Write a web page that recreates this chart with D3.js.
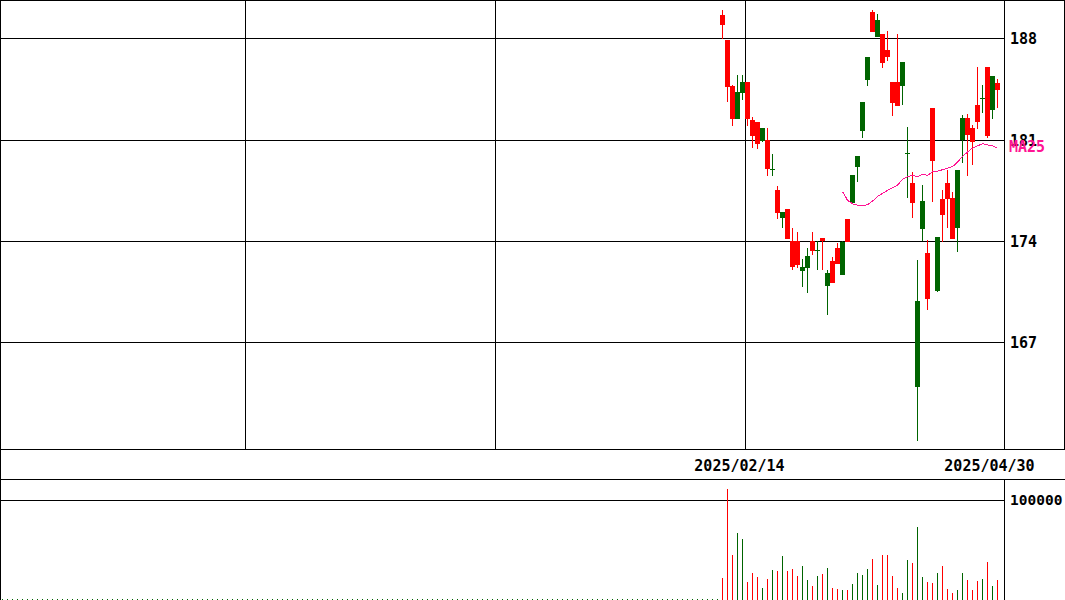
<!DOCTYPE html>
<html><head><meta charset="utf-8">
<script src="https://cdn.jsdelivr.net/npm/d3@7"></script>
<style>
body{margin:0;background:#fff}
svg{display:block}
text{font-family:"DejaVu Sans Mono",monospace;font-size:15px;font-weight:bold}
</style>
</head><body>
<svg id="c" width="1065" height="600"></svg>
<script>
const dates = ["2025/02/06","2025/02/07","2025/02/10","2025/02/12","2025/02/13","2025/02/14","2025/02/17","2025/02/18","2025/02/19","2025/02/20","2025/02/21","2025/02/25","2025/02/26","2025/02/27","2025/02/28","2025/03/03","2025/03/04","2025/03/05","2025/03/06","2025/03/07","2025/03/10","2025/03/11","2025/03/12","2025/03/13","2025/03/14","2025/03/17","2025/03/18","2025/03/19","2025/03/21","2025/03/24","2025/03/25","2025/03/26","2025/03/27","2025/03/28","2025/03/31","2025/04/01","2025/04/02","2025/04/03","2025/04/04","2025/04/07","2025/04/08","2025/04/09","2025/04/10","2025/04/11","2025/04/14","2025/04/15","2025/04/16","2025/04/17","2025/04/18","2025/04/21","2025/04/22","2025/04/23","2025/04/24","2025/04/25","2025/04/28","2025/04/30"];
const open  = [189.62,187.90,184.72,182.46,184.26,185.00,182.37,182.23,180.94,181.00,178.92,177.53,175.60,176.22,174.01,174.01,171.90,172.17,174.01,173.35,174.22,170.90,172.63,173.53,171.66,175.53,176.62,179.14,181.63,185.13,189.83,188.10,188.31,187.21,185.00,185.00,184.74,180.00,178.02,163.95,174.86,173.18,183.20,170.56,176.91,178.02,176.98,174.93,180.99,182.51,181.82,183.41,183.82,186.03,183.06,184.93];
const high  = [189.97,187.90,184.79,185.48,185.48,185.00,182.56,182.23,181.82,181.82,180.02,177.81,176.01,176.22,174.91,174.63,172.73,173.53,174.63,174.01,174.22,172.00,172.91,173.87,174.01,175.53,178.57,179.88,183.61,186.72,189.97,189.69,188.31,188.52,185.00,188.31,186.38,181.91,178.78,172.70,177.88,174.08,183.20,174.29,177.53,178.92,177.40,178.92,182.72,182.78,182.02,186.03,184.79,186.03,185.41,185.20];
const low   = [187.97,183.63,181.96,182.46,183.75,181.96,180.46,180.39,180.87,178.52,178.52,175.55,174.93,174.15,172.00,172.13,170.80,170.44,173.07,172.00,172.00,168.90,171.11,172.44,171.66,173.96,176.62,178.06,181.15,184.74,188.45,188.10,185.98,186.47,182.67,183.36,183.43,176.96,175.58,160.22,174.01,169.25,176.73,170.47,173.96,174.93,174.15,173.27,179.42,178.50,179.26,181.75,182.85,181.13,182.44,183.20];
const close = [188.93,184.67,182.46,184.30,185.00,182.46,181.29,180.73,181.82,178.96,178.98,175.97,176.01,174.15,172.24,172.35,172.18,172.98,173.34,173.40,174.01,171.80,171.11,172.44,173.96,173.96,178.57,179.88,183.61,186.72,188.45,189.28,186.33,186.74,183.57,183.36,186.38,180.11,176.66,169.87,176.77,170.00,179.54,174.29,175.81,176.91,174.15,178.92,182.51,181.33,180.85,182.23,183.89,181.26,185.41,184.44];
const volume = [22200,110400,44800,66700,60700,17900,26900,22900,11900,20900,29900,28900,43800,28900,30800,23900,33800,19900,13900,23900,25900,31800,11900,10900,9900,9900,15900,26900,24900,30800,40800,14900,44800,44800,23900,11900,6900,39800,36800,72600,22900,17900,16900,26900,33800,10900,6900,9900,26900,19900,9900,18900,20900,37800,13900,19900];
const priceTicks = [167,174,181,188];
const volumeTicks = [100000];
const dateLabels = ["2025/02/14","2025/04/30"];
const gridDate = "2025/02/14";
const maPeriod = 25;
const maLabel = "MA25";

// layout
const totalSlots = 200, slotW = 5;
const plotR = 1004, W = 1065;
const priceBottom = 449, dateBottom = 479, volBottom = 600;
const UP = "#006400", DOWN = "#ff0000", MA_COLOR = "#ff1493";

const lead = totalSlots - dates.length;
const x = d3.scaleBand().domain(d3.range(totalSlots)).range([0, totalSlots*slotW]).padding(0);
const sx = i => x(lead + i);
const cx = i => sx(i) + Math.floor(slotW/2) + 0.5;
const y = d3.scaleLinear().domain([167,188]).range([342.4,38.4]);
const yv = d3.scaleLinear().domain([0,100000]).range([volBottom,499.5]);
const px = v => Math.round(v) + 0.5;

const svg = d3.select("#c");
const g = svg.append("g").attr("shape-rendering","crispEdges");

// price grid
g.selectAll(".hg").data(priceTicks).join("line")
  .attr("x1",0).attr("x2",plotR).attr("y1",d=>px(y(d))).attr("y2",d=>px(y(d)))
  .attr("stroke","#000");
const gi = dates.indexOf(gridDate);
const gridSlots = d3.range(lead+gi, 0, -50);
g.selectAll(".vg").data(gridSlots).join("line")
  .attr("x1",d=>x(d)+0.5).attr("x2",d=>x(d)+0.5).attr("y1",0).attr("y2",priceBottom)
  .attr("stroke","#000");

// volume grid
g.selectAll(".vvg").data(volumeTicks).join("line")
  .attr("x1",0).attr("x2",plotR).attr("y1",d=>px(yv(d))).attr("y2",d=>px(yv(d)))
  .attr("stroke","#000");

// frames
const frame = [
  [0.5,0,0.5,volBottom],[0,0.5,W,0.5],[W-0.5,0,W-0.5,priceBottom],
  [plotR+0.5,0,plotR+0.5,priceBottom],[plotR+0.5,dateBottom,plotR+0.5,volBottom],
  [0,priceBottom+0.5,W,priceBottom+0.5],[0,dateBottom+0.5,W,dateBottom+0.5]
];
g.selectAll(".fr").data(frame).join("line")
  .attr("x1",d=>d[0]).attr("y1",d=>d[1]).attr("x2",d=>d[2]).attr("y2",d=>d[3])
  .attr("stroke","#000");

// empty-slot zero-volume marks
g.append("line").attr("x1",cx(-lead)-0.5).attr("x2",sx(0)).attr("y1",volBottom-0.5).attr("y2",volBottom-0.5)
  .attr("stroke",UP).attr("stroke-dasharray","1,4");

const idx = d3.range(dates.length);
const col = i => close[i] >= open[i] ? UP : DOWN;

// candles
g.selectAll(".wick").data(idx).join("line")
  .attr("x1",cx).attr("x2",cx).attr("y1",i=>Math.round(y(high[i]))).attr("y2",i=>Math.round(y(low[i])))
  .attr("stroke",col);
g.selectAll(".body").data(idx).join("rect")
  .attr("x",sx).attr("width",slotW)
  .attr("y",i=>Math.round(y(Math.max(open[i],close[i]))))
  .attr("height",i=>Math.max(1,Math.round(y(Math.min(open[i],close[i])))-Math.round(y(Math.max(open[i],close[i])))))
  .attr("fill",col);

// volume
g.selectAll(".vol").data(idx).join("line")
  .attr("x1",cx).attr("x2",cx).attr("y1",i=>Math.round(yv(volume[i]))).attr("y2",volBottom)
  .attr("stroke",col);

// MA25
const ma = idx.filter(i=>i>=maPeriod-1).map(i=>({i, v:d3.mean(close.slice(i-maPeriod+1,i+1))}));
g.append("path").datum(ma)
  .attr("d",d3.line().x(d=>cx(d.i)).y(d=>y(d.v)))
  .attr("fill","none").attr("stroke",MA_COLOR).attr("stroke-width",1);

// price axis labels
const ax = svg.append("g").attr("transform",`translate(${plotR},0)`)
  .call(d3.axisRight(y).tickValues(priceTicks).tickFormat(d3.format("d")).tickSize(0).tickPadding(6));
ax.select(".domain").remove();
ax.selectAll("text").attr("font-family",null).attr("font-size",null).attr("fill","#000").attr("dy","0.37em");

const axv = svg.append("g").attr("transform",`translate(${plotR},0)`)
  .call(d3.axisRight(yv).tickValues(volumeTicks).tickFormat(d3.format("d")).tickSize(0).tickPadding(6));
axv.select(".domain").remove();
axv.selectAll("text").attr("font-family",null).attr("font-size",null).style("font-size","14.5px").attr("fill","#000").attr("dy","0.37em");

// date labels
svg.selectAll(".dl").data(dateLabels).join("text")
  .attr("x",d=>sx(dates.indexOf(d))-5.5).attr("y",470.5)
  .attr("text-anchor","middle").attr("fill","#000").text(d=>d);

// MA label
svg.append("text").attr("x",plotR+5).attr("y",y(ma[ma.length-1].v)+3.5)
  .attr("fill",MA_COLOR).text(maLabel);
</script>
</body></html>
